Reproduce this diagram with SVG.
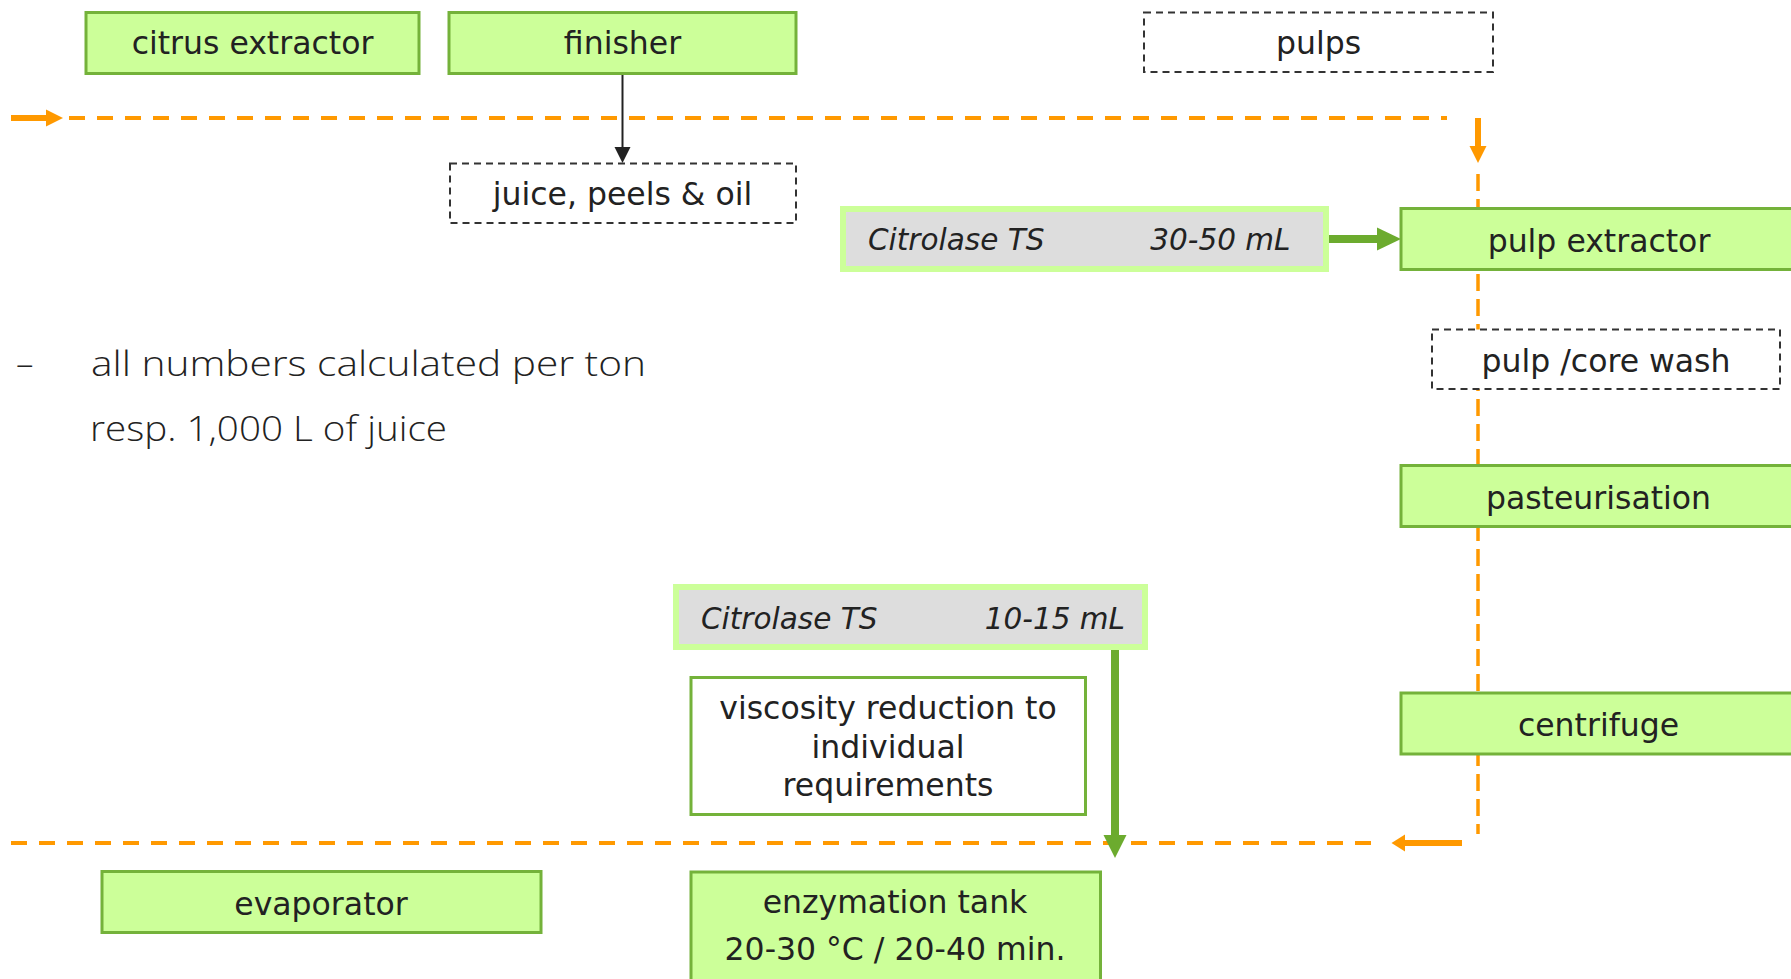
<svg xmlns="http://www.w3.org/2000/svg" width="1791" height="979" viewBox="0 0 1791 979">
<style>
.step{fill:#ccff99;stroke:#74b23a;stroke-width:3}
.out{fill:#ffffff;stroke:#333333;stroke-width:2;stroke-dasharray:7 5}
.note{fill:#ffffff;stroke:#74b23a;stroke-width:3}
.enz{fill:#dddddd;stroke:#ccff99;stroke-width:6}
.t{font-family:"DejaVu Sans",Verdana,sans-serif;font-size:31.5px;fill:#222222;text-anchor:middle}
.ti{font-family:"DejaVu Sans",Verdana,sans-serif;font-size:29.5px;font-style:italic;fill:#222222}
.flow{fill:none;stroke:#ff9900;stroke-width:4;stroke-dasharray:16 12}
.flowv{fill:none;stroke:#ff9900;stroke-width:3.5;stroke-dasharray:17 8}
.solid{fill:none;stroke:#ff9900;stroke-width:6}
.orh{fill:#ff9900}
.grn{fill:none;stroke:#6cab2e;stroke-width:8}
.grh{fill:#6cab2e}
.blk{fill:none;stroke:#222222;stroke-width:2}
.lt{font-family:"Open Sans","Liberation Sans",sans-serif;font-weight:300;font-size:35px;fill:#222222}
</style>
<rect width="1791" height="979" fill="#ffffff"/>

<g id="connectors">
  <!-- top orange line -->
  <line class="solid" x1="11" y1="118" x2="47" y2="118"/>
  <polygon class="orh" points="46,109.5 63,118 46,126.5"/>
  <line class="flow" x1="69" y1="118" x2="1447" y2="118"/>
  <!-- vertical orange -->
  <line class="solid" x1="1478" y1="118" x2="1478" y2="147"/>
  <polygon class="orh" points="1469.5,146 1486.5,146 1478,163"/>
  <line class="flowv" x1="1478" y1="174" x2="1478" y2="834"/>
  <!-- bottom orange -->
  <line class="solid" x1="1462" y1="843" x2="1403" y2="843"/>
  <polygon class="orh" points="1405,834.5 1405,851.5 1391.5,843"/>
  <line class="flow" x1="1371" y1="843" x2="11" y2="843"/>
  <!-- finisher arrow -->
  <line class="blk" x1="622.5" y1="73" x2="622.5" y2="148"/>
  <polygon fill="#222222" points="614.5,147 630.5,147 622.5,163"/>
  <!-- green arrow to pulp extractor -->
  <line class="grn" x1="1329" y1="239" x2="1379" y2="239"/>
  <polygon class="grh" points="1377,227.5 1377,250.5 1401,239"/>
  <!-- green arrow down to line -->
  <line class="grn" x1="1115" y1="650" x2="1115" y2="837"/>
  <polygon class="grh" points="1103.5,835 1126.5,835 1115,858"/>
</g>

<g id="citrus-extractor">
  <rect class="step" x="86" y="12.5" width="333" height="61"/>
  <text class="t" x="252.5" y="54">citrus extractor</text>
</g>
<g id="finisher">
  <rect class="step" x="449" y="12.5" width="347" height="61"/>
  <text class="t" x="622.5" y="54">finisher</text>
</g>
<g id="pulps">
  <rect class="out" x="1144" y="12.5" width="349" height="59.5"/>
  <text class="t" x="1318.5" y="54">pulps</text>
</g>
<g id="juice-peels-oil">
  <rect class="out" x="450" y="163.5" width="346" height="59.5"/>
  <text class="t" x="622.5" y="205">juice, peels &amp; oil</text>
</g>
<g id="citrolase-1">
  <rect class="enz" x="843" y="209" width="483" height="60"/>
  <text class="ti" x="868" y="250">Citrolase TS</text>
  <text class="ti" x="1290.5" y="250" text-anchor="end">30-50 mL</text>
</g>
<g id="pulp-extractor">
  <rect class="step" x="1401" y="208.5" width="400" height="61"/>
  <text class="t" x="1599" y="252">pulp extractor</text>
</g>
<g id="pulp-core-wash">
  <rect class="out" x="1432" y="329.5" width="348" height="59.5"/>
  <text class="t" x="1606" y="372">pulp /core wash</text>
</g>
<g id="pasteurisation">
  <rect class="step" x="1401" y="465.5" width="400" height="61"/>
  <text class="t" x="1598.5" y="509">pasteurisation</text>
</g>
<g id="centrifuge">
  <rect class="step" x="1401" y="693" width="400" height="61"/>
  <text class="t" x="1598.5" y="736">centrifuge</text>
</g>
<g id="citrolase-2">
  <rect class="enz" x="676" y="587" width="469" height="60"/>
  <text class="ti" x="701" y="629">Citrolase TS</text>
  <text class="ti" x="1125" y="629" text-anchor="end">10-15 mL</text>
</g>
<g id="viscosity-note">
  <rect class="note" x="691" y="677.5" width="394.5" height="137"/>
  <text class="t" x="888" y="719">viscosity reduction to</text>
  <text class="t" x="888" y="757.5">individual</text>
  <text class="t" x="888" y="796">requirements</text>
</g>
<g id="evaporator">
  <rect class="step" x="102" y="871.5" width="439" height="61"/>
  <text class="t" x="321" y="915">evaporator</text>
</g>
<g id="enzymation-tank">
  <rect class="step" x="691" y="872" width="409.5" height="115"/>
  <text class="t" x="895" y="913">enzymation tank</text>
  <text class="t" x="895" y="960">20-30 °C / 20-40 min.</text>
</g>

<g id="note">
  <text class="lt" x="16" y="376">–</text>
  <text class="lt" x="91" y="376" textLength="555" lengthAdjust="spacingAndGlyphs">all numbers calculated per ton</text>
  <text class="lt" x="90" y="441" textLength="357" lengthAdjust="spacingAndGlyphs">resp. 1,000 L of juice</text>
</g>
</svg>
